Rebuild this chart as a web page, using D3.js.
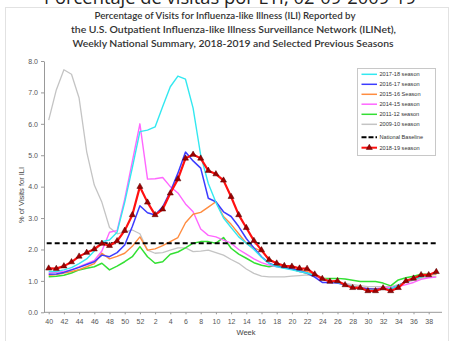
<!DOCTYPE html>
<html><head><meta charset="utf-8">
<script src="https://cdn.jsdelivr.net/npm/d3@7"></script>
<style>html,body{margin:0;padding:0;background:#fff;overflow:hidden}</style>
</head><body>
<svg id="c" width="453" height="341"></svg>
<script>
const weeks = [40,41,42,43,44,45,46,47,48,49,50,51,52,1,2,3,4,5,6,7,8,9,10,11,12,13,14,15,16,17,18,19,20,21,22,23,24,25,26,27,28,29,30,31,32,33,34,35,36,37,38,39];
const xTickWeeks = [40,42,44,46,48,50,52,2,4,6,8,10,12,14,16,18,20,22,24,26,28,30,32,34,36,38];
const yTicks = [0,1,2,3,4,5,6,7,8];
const baseline = 2.2;

const s2009 = [6.12,7.08,7.72,7.58,6.82,5.11,4.05,3.50,2.70,2.50,2.55,2.62,2.50,1.98,1.88,1.90,1.98,2.05,2.05,1.93,1.95,1.98,1.90,1.82,1.68,1.56,1.38,1.24,1.15,1.13,1.13,1.13,1.15,1.17,1.19,1.15,1.08,1.00,0.95,0.92,0.88,0.85,0.82,0.82,0.82,0.82,0.88,0.95,1.02,1.08,1.12,1.15];
const s2011 = [1.13,1.15,1.18,1.25,1.35,1.40,1.45,1.56,1.35,1.47,1.61,1.77,2.09,1.77,1.56,1.61,1.85,1.92,2.05,2.20,2.25,2.25,2.20,2.38,2.04,1.85,1.72,1.58,1.50,1.45,1.50,1.45,1.38,1.30,1.24,1.15,1.08,1.08,1.08,1.06,1.02,0.98,0.98,0.98,0.93,0.84,1.03,1.10,1.15,1.21,1.21,1.22];
const s2014 = [1.25,1.27,1.30,1.35,1.45,1.55,1.65,1.95,2.55,2.60,3.60,4.80,6.00,4.24,4.25,4.29,4.00,3.80,3.45,3.20,2.65,2.45,2.40,2.30,2.20,2.00,1.85,1.70,1.58,1.50,1.45,1.42,1.38,1.30,1.25,1.15,1.05,1.00,0.95,0.90,0.82,0.78,0.75,0.75,0.78,0.80,0.82,0.88,0.95,1.05,1.10,1.12];
const s2015 = [1.18,1.20,1.25,1.30,1.36,1.45,1.55,1.88,1.70,1.78,1.88,2.10,2.40,1.98,2.02,2.12,2.25,2.38,2.85,3.12,3.18,3.35,3.52,3.05,2.80,2.50,2.20,2.05,1.95,1.70,1.55,1.45,1.40,1.35,1.30,1.20,1.10,1.00,0.95,0.88,0.82,0.78,0.75,0.75,0.75,0.75,0.85,0.98,1.05,1.12,1.18,1.22];
const s2016 = [1.21,1.22,1.27,1.35,1.43,1.52,1.61,1.82,1.77,1.90,2.14,2.73,3.39,3.17,3.10,3.36,3.84,4.43,5.10,4.82,4.59,3.63,3.52,3.20,3.05,2.73,2.35,2.05,1.77,1.56,1.47,1.42,1.38,1.32,1.25,1.12,0.95,0.95,0.93,0.87,0.80,0.77,0.75,0.73,0.75,0.75,0.85,0.98,1.05,1.15,1.20,1.25];
const s2017 = [1.30,1.30,1.35,1.42,1.55,1.70,1.95,2.25,2.30,2.55,3.50,4.60,5.75,5.80,5.90,6.55,7.18,7.52,7.42,6.50,5.00,4.10,3.50,3.00,2.70,2.40,2.20,2.00,1.75,1.55,1.45,1.40,1.35,1.30,1.25,1.18,1.08,1.00,0.95,0.88,0.82,0.75,0.70,0.70,0.74,0.76,0.85,0.98,1.05,1.12,1.20,1.25];
const s2018 = [1.40,1.39,1.47,1.60,1.78,1.90,2.01,2.19,2.12,2.27,2.60,3.10,4.00,3.50,3.10,3.28,3.79,4.24,4.90,5.02,4.90,4.51,4.40,4.20,3.68,3.10,2.69,2.28,1.98,1.67,1.56,1.48,1.46,1.40,1.39,1.21,1.07,0.98,1.00,0.87,0.78,0.78,0.68,0.68,0.77,0.68,0.78,1.00,1.08,1.19,1.19,1.29];

const seriesNames = ["2017-18 season","2016-17 season","2015-16 Season","2014-15 season","2011-12 season","2009-10 season","National Baseline","2018-19 season"];

const svg = d3.select("#c");
const x = d3.scaleLinear().domain([0, weeks.length-1]).range([48.7, 436.3]);
const y = d3.scaleLinear().domain([0, 8]).range([312.3, 61]);

// frame
svg.append("rect").attr("x",5.5).attr("y",7.5).attr("width",443).attr("height",345)
  .attr("fill","none").attr("stroke","#e2e2e2").attr("stroke-width",1);

// cut-off heading
svg.append("text").attr("x",230).attr("y",4).attr("text-anchor","middle")
  .attr("font-family","Open Sans, sans-serif").attr("font-size",18).attr("fill","#222")
  .attr("textLength",372).attr("lengthAdjust","spacingAndGlyphs")
  .text("Porcentaje de visitas por ETI, 02-09-2009-19");

// chart title
const titleLines = [
  ["Percentage of Visits for Influenza-like Illness (ILI) Reported by",225,19,261],
  ["the U.S. Outpatient Influenza-like Illness Surveillance Network (ILINet),",233.5,33,325],
  ["Weekly National Summary, 2018-2019 and Selected Previous Seasons",233,47,321]
];
titleLines.forEach(t=>{
  svg.append("text").attr("x",t[1]).attr("y",t[2]).attr("text-anchor","middle")
    .attr("font-family","Lato, sans-serif").attr("font-size",9).attr("font-weight",600).attr("fill","#333")
    .attr("textLength",t[3]).attr("lengthAdjust","spacingAndGlyphs").text(t[0]);
});

// y axis
const yAxis = svg.append("g").attr("transform","translate(44,0)")
  .call(d3.axisLeft(y).tickValues(yTicks).tickFormat(d3.format(".1f")).tickSize(3).tickSizeOuter(0));
yAxis.select(".domain").attr("stroke","#999");
yAxis.selectAll(".tick line").attr("stroke","#999");
yAxis.selectAll("text").attr("font-family","Liberation Sans, Arial, sans-serif").attr("font-size",7).attr("fill","#555").attr("x",-6);

// x axis
const xAxis = svg.append("g").attr("transform","translate(0,312.3)")
  .call(d3.axisBottom(x).tickValues(xTickWeeks.map(w=>weeks.indexOf(w))).tickFormat(i=>weeks[i]).tickSize(2).tickSizeOuter(0));
xAxis.select(".domain").attr("d","M44,0H442").attr("stroke","#999");
xAxis.selectAll(".tick line").attr("stroke","#999");
xAxis.selectAll("text").attr("font-family","Liberation Sans, Arial, sans-serif").attr("font-size",7).attr("fill","#555").attr("dy","0.9em");

svg.append("text").attr("x",246).attr("y",335).attr("text-anchor","middle")
  .attr("font-family","Liberation Sans, Arial, sans-serif").attr("font-size",7.5).attr("fill","#444").text("Week");
svg.append("text").attr("transform","translate(24,195) rotate(-90)").attr("text-anchor","middle")
  .attr("font-family","Liberation Sans, Arial, sans-serif").attr("font-size",7.5).attr("fill","#444").text("% of Visits for ILI");

const line = d3.line().x((d,i)=>x(i)).y(d=>y(d));
const plot = [
  [s2009,"#c4c4c4",1.3],
  [s2011,"#33e033",1.5],
  [s2014,"#ff66ff",1.4],
  [s2015,"#ff8c40",1.4],
  [s2016,"#3c3cff",1.5],
  [s2017,"#33e8f0",1.4]
];
plot.forEach(p=>{
  svg.append("path").datum(p[0]).attr("d",line).attr("fill","none").attr("stroke",p[1]).attr("stroke-width",p[2]).attr("stroke-linejoin","round");
});

// baseline
svg.append("line").attr("x1",x(0)-2).attr("x2",x(weeks.length-1)).attr("y1",y(baseline)).attr("y2",y(baseline))
  .attr("stroke","#000").attr("stroke-width",2).attr("stroke-dasharray","5,3");

// 2018-19
svg.append("path").datum(s2018).attr("d",line).attr("fill","none").attr("stroke","#ff1010").attr("stroke-width",2.2).attr("stroke-linejoin","round");
const tri = d3.symbol().type(d3.symbolTriangle).size(16);
svg.append("g").selectAll("path").data(s2018).join("path")
  .attr("transform",(d,i)=>`translate(${x(i)},${y(d)})`).attr("d",tri)
  .attr("fill","#a00000").attr("stroke","#500000").attr("stroke-width",0.5);

// legend
const lg = svg.append("g");
lg.append("rect").attr("x",357.5).attr("y",68.5).attr("width",78).attr("height",87).attr("fill","#fff").attr("stroke","#c8c8c8");
const legColors = ["#33e8f0","#3c3cff","#ff8c40","#ff66ff","#33e033","#c4c4c4","#000","#ff1010"];
const legY = [74.3,84.3,94.3,104.2,114.3,124.3,137.3,147.7];
seriesNames.forEach((n,i)=>{
  const g = lg.append("g");
  g.append("line").attr("x1",361.5).attr("x2",377).attr("y1",legY[i]).attr("y2",legY[i])
    .attr("stroke",legColors[i]).attr("stroke-width",i>=6?2:1.5).attr("stroke-dasharray",i===6?"5,2":null);
  if(i===7) g.append("path").attr("transform",`translate(369.3,${legY[i]})`).attr("d",tri).attr("fill","#a00000").attr("stroke","#500000").attr("stroke-width",0.5);
  g.append("text").attr("x",379.5).attr("y",legY[i]+2).attr("font-family","Liberation Sans, Arial, sans-serif")
    .attr("font-size",5.6).attr("fill","#333").text(n);
});
</script>
</body></html>
